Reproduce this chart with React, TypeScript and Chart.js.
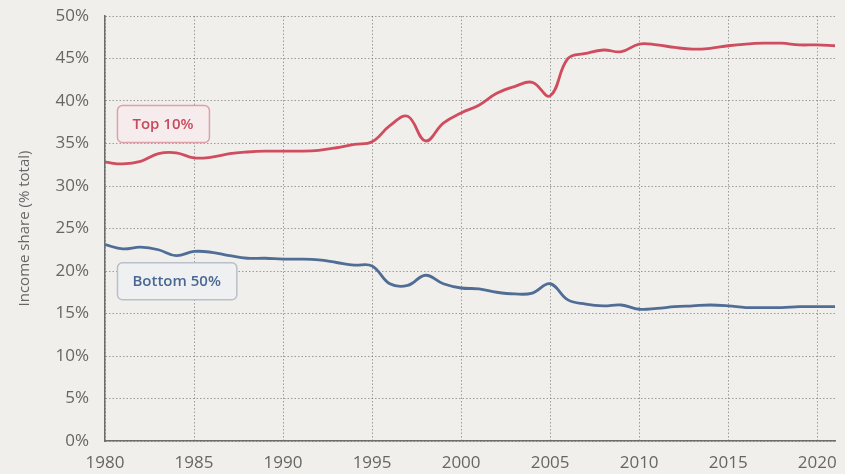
import React, { useEffect, useRef } from 'react';
import { Chart, registerables } from 'chart.js';

Chart.register(...registerables);

// data (income share, % of total)
const years = [
  1980, 1981, 1982, 1983, 1984, 1985, 1986, 1987, 1988, 1989,
  1990, 1991, 1992, 1993, 1994, 1995, 1996, 1997, 1998, 1999,
  2000, 2001, 2002, 2003, 2004, 2005, 2006, 2007, 2008, 2009,
  2010, 2011, 2012, 2013, 2014, 2015, 2016, 2017, 2018, 2019,
  2020, 2021,
];

const top10 = [
  32.8, 32.6, 32.9, 33.8, 33.9, 33.3, 33.4, 33.8, 34.0, 34.1,
  34.1, 34.1, 34.2, 34.5, 34.9, 35.2, 37.1, 38.2, 35.3, 37.4,
  38.6, 39.5, 40.9, 41.7, 42.2, 40.6, 45.0, 45.6, 46.0, 45.8,
  46.7, 46.6, 46.3, 46.1, 46.2, 46.5, 46.7, 46.8, 46.8, 46.6,
  46.6, 46.5,
];

const bottom50 = [
  23.1, 22.6, 22.8, 22.5, 21.8, 22.3, 22.2, 21.8, 21.5, 21.5,
  21.4, 21.4, 21.3, 21.0, 20.7, 20.6, 18.5, 18.3, 19.5, 18.5,
  18.0, 17.9, 17.5, 17.3, 17.4, 18.5, 16.6, 16.1, 15.9, 16.0,
  15.5, 15.6, 15.8, 15.9, 16.0, 15.9, 15.7, 15.7, 15.7, 15.8,
  15.8, 15.8,
];

const yearTicks = [1980, 1985, 1990, 1995, 2000, 2005, 2010, 2015, 2020];
const percentTicks = [0, 5, 10, 15, 20, 25, 30, 35, 40, 45, 50];

const FONT = '"Open Sans", "Noto Sans", sans-serif';
const TICK_COLOR = '#666666';
const GRID_COLOR = 'rgba(100, 100, 100, 0.6)';

// boxed series labels, anchored in data units (left edge, vertical centre)
const seriesLabels = [
  { text: 'Top 10%', year: 1980.7, value: 37.3, color: '#c9485b', fill: '#f7eced', stroke: '#dba2a9' },
  { text: 'Bottom 50%', year: 1980.7, value: 18.8, color: '#4a6892', fill: '#eff0f2', stroke: '#b9c0ca' },
];

const labelBoxes = {
  id: 'labelBoxes',
  afterDatasetsDraw(chart: Chart) {
    const ctx = chart.ctx;
    const xs = chart.scales.x;
    const ys = chart.scales.y;
    ctx.save();
    ctx.font = `600 15px ${FONT}`;
    for (const l of seriesLabels) {
      const x = xs.getPixelForValue(l.year);
      const cy = ys.getPixelForValue(l.value);
      const w = ctx.measureText(l.text).width + 31;
      const h = 37;
      ctx.beginPath();
      ctx.roundRect(x, cy - h / 2, w, h, 5);
      ctx.fillStyle = l.fill;
      ctx.fill();
      ctx.lineWidth = 1.5;
      ctx.strokeStyle = l.stroke;
      ctx.stroke();
      ctx.fillStyle = l.color;
      ctx.textAlign = 'left';
      ctx.textBaseline = 'middle';
      ctx.fillText(l.text, x + 15, cy + 1);
    }
    ctx.restore();
  },
};

export default function App() {
  const chartRef = useRef<HTMLCanvasElement | null>(null);
  const myChartRef = useRef<Chart | null>(null);

  useEffect(() => {
    document.body.style.margin = '0';
    document.body.style.background = '#f1efec';

    if (myChartRef.current) {
      myChartRef.current.destroy();
    }

    const data = {
      datasets: [
        {
          label: 'Top 10%',
          data: years.map((y, i) => ({ x: y, y: top10[i] })),
          borderColor: '#cf4d5f',
          borderWidth: 2.8,
          pointRadius: 0,
          tension: 0.4,
        },
        {
          label: 'Bottom 50%',
          data: years.map((y, i) => ({ x: y, y: bottom50[i] })),
          borderColor: '#506d96',
          borderWidth: 2.8,
          pointRadius: 0,
          tension: 0.4,
        },
      ],
    };

    const options: any = {
      responsive: false,
      animation: false,
      layout: { padding: { left: 0, top: 16, right: 10, bottom: 0 } },
      plugins: {
        legend: { display: false },
        tooltip: { enabled: false },
      },
      scales: {
        x: {
          type: 'linear',
          min: 1980,
          max: 2021,
          afterBuildTicks: (axis: any) => {
            axis.ticks = yearTicks.map((v) => ({ value: v }));
          },
          afterFit: (axis: any) => {
            axis.height = 33;
            axis.paddingLeft = 0;
            axis.paddingRight = 0;
          },
          ticks: {
            color: TICK_COLOR,
            font: { family: FONT, size: 17 },
            padding: 12,
            maxRotation: 0,
            callback: (v: number) => String(v),
          },
          grid: { color: GRID_COLOR, lineWidth: 1, drawTicks: false },
          border: { display: true, color: '#6d6d6d', width: 1.5, dash: [1.5, 2] },
        },
        y: {
          min: 0,
          max: 50,
          afterBuildTicks: (axis: any) => {
            axis.ticks = percentTicks.map((v) => ({ value: v }));
          },
          afterFit: (axis: any) => {
            axis.width = 105;
            axis.paddingTop = 0;
            axis.paddingBottom = 0;
          },
          ticks: {
            color: TICK_COLOR,
            font: { family: FONT, size: 17 },
            padding: 16,
            callback: (v: number) => v + '%',
          },
          grid: { color: GRID_COLOR, lineWidth: 1, drawTicks: false },
          border: { display: true, color: '#6d6d6d', width: 1.5, dash: [1.5, 2] },
          title: {
            display: true,
            text: 'Income share (% total)',
            color: TICK_COLOR,
            font: { family: FONT, size: 15 },
            padding: { top: 16, bottom: 4 },
          },
        },
      },
    };

    if (chartRef.current) {
      myChartRef.current = new Chart(chartRef.current, {
        type: 'line',
        data: data,
        options: options,
        plugins: [labelBoxes],
      });
    }

    return () => {
      if (myChartRef.current) {
        myChartRef.current.destroy();
      }
    };
  }, []);

  return (
    <div style={{ width: '845px', height: '474px', background: '#f1efec' }}>
      <canvas ref={chartRef} width={845} height={474} style={{ display: 'block' }} />
    </div>
  );
}
